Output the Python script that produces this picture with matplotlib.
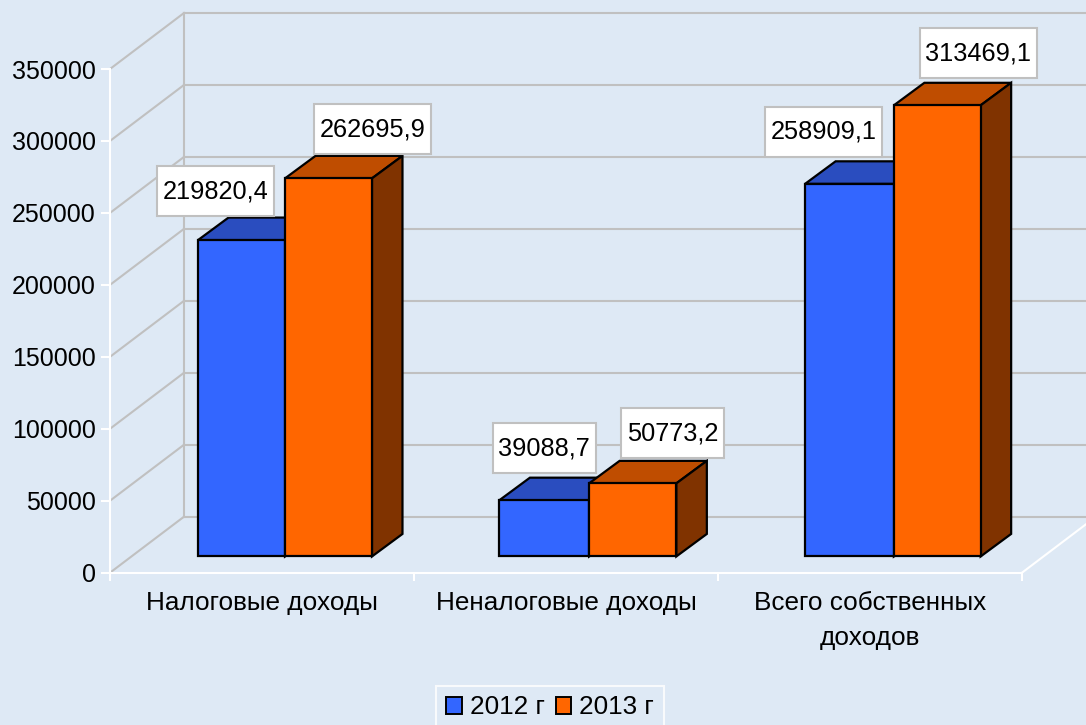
import matplotlib
matplotlib.use('Agg')
import matplotlib.pyplot as plt
from matplotlib.patches import Polygon, Patch, Rectangle
from matplotlib.transforms import IdentityTransform

categories = ['Налоговые доходы', 'Неналоговые доходы', 'Всего собственных\nдоходов']
series_names = ['2012 г', '2013 г']
values_2012 = [219820.4, 39088.7, 258909.1]
values_2013 = [262695.9, 50773.2, 313469.1]
y_ticks = [0, 50000, 100000, 150000, 200000, 250000, 300000, 350000]

# label box centre relative to the bar's front top centre, pixels
label_shift_2012 = [(-26, 49), (0, 52), (-26, 52)]
label_shift_2013 = [(44, 49), (40, 50), (41, 52)]

BG = '#DEE9F5'
GRID = '#C0C0C0'
FRONT = ['#3366FF', '#FF6600']
TOP = ['#2A4DBF', '#BF4D00']
SIDE = ['#1F3A8F', '#803300']

plt.rcParams['font.family'] = ['Liberation Sans', 'DejaVu Sans']
FS = 18.8

W, H = 1086, 725
fig = plt.figure(figsize=(W / 100, H / 100), dpi=100, facecolor=BG)
ax = fig.add_axes([110 / W, (H - 572.7) / H, 912 / W, 503.7 / H])
ax.patch.set_alpha(0)
ax.set_xlim(0, 3)
ax.set_ylim(0, 350000)

# depth of the walls and of the bars, in data units
wall_dx, wall_dy = 0.2434, 38920
bar_dx, bar_dy = 0.1003, 15640
bar_z = 11300
bar_left = [0.2895, 0.2810, 0.2865]
bar_mid = [0.5757, 0.5760, 0.5785]
bar_right = [0.8618, 0.8630, 0.8640]

# back wall and left wall
for t in y_ticks:
    ax.plot([0, wall_dx], [t, t + wall_dy], color=GRID, lw=1.5, clip_on=False, zorder=1)
    ax.plot([wall_dx, 3 + wall_dx], [t + wall_dy, t + wall_dy], color=GRID, lw=1.5, clip_on=False, zorder=1)
ax.plot([wall_dx, wall_dx], [wall_dy, 350000 + wall_dy], color=GRID, lw=1.5, clip_on=False, zorder=1)
ax.plot([3, 3 + wall_dx], [0, wall_dy], color='white', lw=1.5, clip_on=False, zorder=1)


def draw_bar(x, x1, val, k):
    y0 = bar_z
    y1 = val + bar_z
    top = [(x, y1), (x1, y1), (x1 + bar_dx, y1 + bar_dy), (x + bar_dx, y1 + bar_dy)]
    side = [(x1, y0), (x1 + bar_dx, y0 + bar_dy), (x1 + bar_dx, y1 + bar_dy), (x1, y1)]
    front = [(x, y0), (x1, y0), (x1, y1), (x, y1)]
    for pts, col in [(top, TOP[k]), (side, SIDE[k]), (front, FRONT[k])]:
        ax.add_patch(Polygon(pts, closed=True, facecolor=col, edgecolor='black', lw=1.6,
                             joinstyle='miter', clip_on=False, zorder=2 + k))


def draw_label(x, val, txt, shift):
    px, py = ax.transData.transform((x, val + bar_z))
    cx, cy = px + shift[0], py + shift[1]
    bw = 117 if len(txt) > 7 else 103
    fig.add_artist(Rectangle((cx - bw / 2, cy - 25), bw, 50, transform=IdentityTransform(),
                             facecolor='white', edgecolor=GRID, lw=1.5, zorder=5))
    fig.text(cx, cy + 2.5, txt, transform=IdentityTransform(), ha='center', va='center_baseline',
             fontsize=18.3, color='black', zorder=6)


for i in range(3):
    draw_bar(i + bar_left[i], i + bar_mid[i], values_2012[i], 0)
    draw_bar(i + bar_mid[i], i + bar_right[i], values_2013[i], 1)

for i in range(3):
    draw_label(i + (bar_left[i] + bar_mid[i]) / 2, values_2012[i],
               f'{values_2012[i]:.1f}'.replace('.', ','), label_shift_2012[i])
    draw_label(i + (bar_mid[i] + bar_right[i]) / 2, values_2013[i],
               f'{values_2013[i]:.1f}'.replace('.', ','), label_shift_2013[i])

for s in ['top', 'right']:
    ax.spines[s].set_visible(False)
for s in ['left', 'bottom']:
    ax.spines[s].set_color('white')
    ax.spines[s].set_linewidth(1.5)
    ax.spines[s].set_zorder(1.5)

ax.set_yticks(y_ticks)
ax.tick_params(axis='y', colors='white', length=6.5, width=1.5, labelcolor='black', labelsize=18, pad=3.6)
ax.set_xticks([0, 1, 2, 3])
ax.set_xticklabels([])
ax.tick_params(axis='x', which='major', colors='white', length=6, width=1.5)
ax.set_xticks([0.5, 1.5, 2.5], minor=True)
ax.set_xticklabels(categories, minor=True, fontsize=FS, color='black', linespacing=1.6)
ax.tick_params(axis='x', which='minor', length=0, pad=13)

handles = [Patch(facecolor=FRONT[0], edgecolor='black', lw=1.4),
           Patch(facecolor=FRONT[1], edgecolor='black', lw=1.4)]
leg = fig.legend(handles, series_names, ncol=2, loc='center', bbox_to_anchor=(550 / W, (H - 707.5) / H),
                 fontsize=FS, frameon=True, fancybox=False, facecolor=BG, edgecolor='white',
                 handlelength=0.6, handleheight=0.6, handletextpad=0.3, columnspacing=0.42,
                 borderpad=0.38, borderaxespad=0)
leg.get_frame().set_linewidth(1.5)

fig.savefig('out.png', dpi=100, facecolor=BG)
